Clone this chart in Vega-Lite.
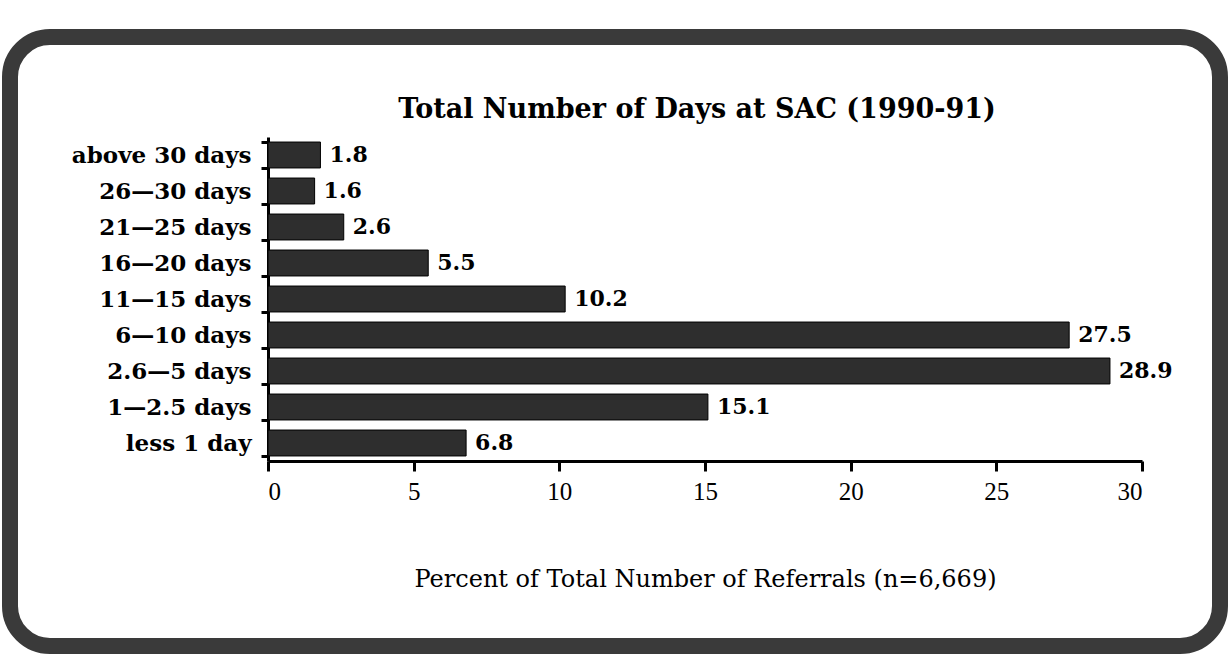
{
  "$schema": "https://vega.github.io/schema/vega-lite/v6.json",
  "autosize": {"type": "none"},
  "padding": {"left": 10, "top": 37, "right": 8, "bottom": 8},
  "width": 1210,
  "height": 609,
  "background": "white",
  "config": {
    "view": {"stroke": "#3a3a3a", "strokeWidth": 16, "cornerRadius": 40, "fill": "white"}
  },
  "title": {
    "text": "Total Number of Days at SAC (1990-91)",
    "font": "DejaVu Serif",
    "fontWeight": "bold",
    "fontSize": 27,
    "color": "black",
    "anchor": "middle",
    "dx": 82,
    "dy": 102
  },
  "data": {
    "values": [
      {"days": "above 30 days", "pct": 1.8},
      {"days": "26—30 days", "pct": 1.6},
      {"days": "21—25 days", "pct": 2.6},
      {"days": "16—20 days", "pct": 5.5},
      {"days": "11—15 days", "pct": 10.2},
      {"days": "6—10 days", "pct": 27.5},
      {"days": "2.6—5 days", "pct": 28.9},
      {"days": "1—2.5 days", "pct": 15.1},
      {"days": "less 1 day", "pct": 6.8}
    ]
  },
  "encoding": {
    "y": {
      "field": "days",
      "type": "nominal",
      "sort": null,
      "scale": {"range": [100, 424], "paddingInner": 0.28, "paddingOuter": 0.14},
      "axis": {
        "title": null,
        "offset": -258,
        "domainColor": "black",
        "domainWidth": 3,
        "tickBand": "extent",
        "tickColor": "black",
        "tickWidth": 3,
        "tickSize": 7,
        "labelFont": "DejaVu Serif",
        "labelFontWeight": "bold",
        "labelFontSize": 23,
        "labelColor": "black",
        "labelPadding": 10
      }
    },
    "x": {
      "field": "pct",
      "type": "quantitative",
      "scale": {"domain": [0, 30], "range": [258, 1132], "nice": false},
      "axis": {
        "title": "Percent of Total Number of Referrals (n=6,669)",
        "titleFont": "DejaVu Serif",
        "titleFontWeight": "normal",
        "titleFontSize": 24,
        "titleColor": "black",
        "titlePadding": 63,
        "offset": -185,
        "values": [0, 5, 10, 15, 20, 25, 30],
        "grid": false,
        "domainColor": "black",
        "domainWidth": 3,
        "tickColor": "black",
        "tickWidth": 3,
        "tickSize": 10,
        "labelFont": "Liberation Serif",
        "labelFontSize": 25,
        "labelColor": "black",
        "labelPadding": 8
      }
    }
  },
  "layer": [
    {"mark": {"type": "bar", "color": "#2e2e2e", "stroke": "black", "strokeWidth": 1}},
    {
      "mark": {"type": "text", "align": "left", "baseline": "middle", "dx": 9, "font": "DejaVu Serif", "fontWeight": "bold", "fontSize": 22, "color": "black"},
      "encoding": {"text": {"field": "pct", "type": "quantitative", "format": ".1f"}}
    }
  ]
}
